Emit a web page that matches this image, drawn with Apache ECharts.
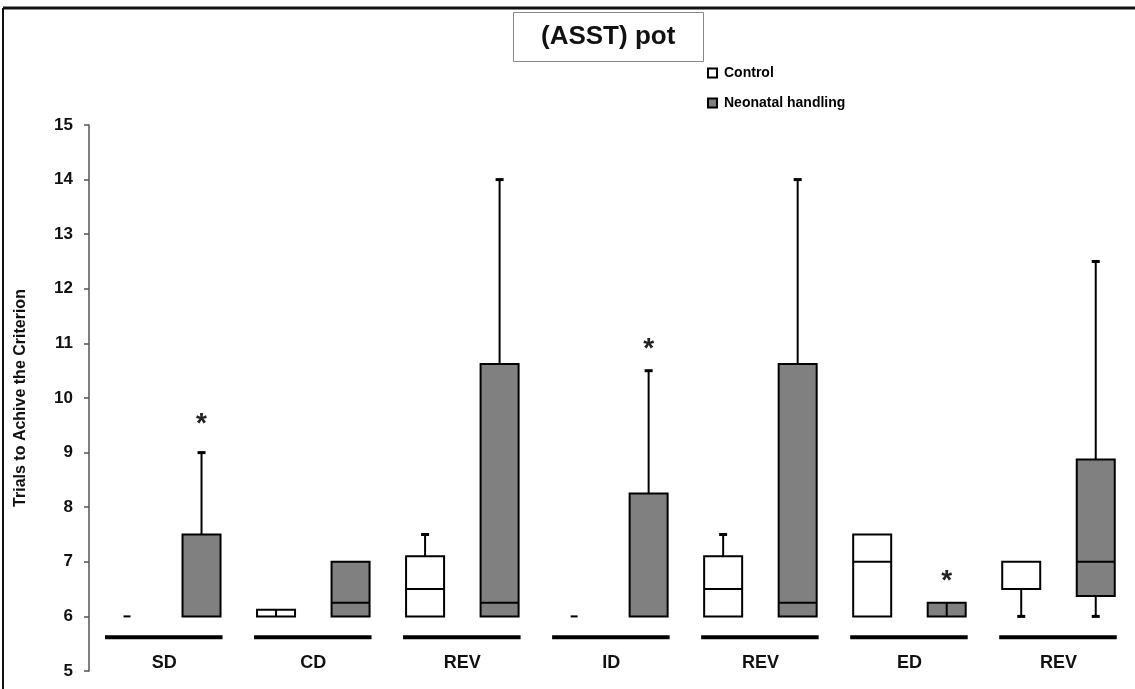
<!DOCTYPE html>
<html>
<head>
<meta charset="utf-8">
<script src="https://cdn.jsdelivr.net/npm/echarts@6/dist/echarts.min.js"></script>
<style>
html,body{margin:0;padding:0;background:#fff;}
#chart{width:1135px;height:689px;}
</style>
</head>
<body>
<div id="chart"></div>
<script>
// ---- data ----
const titleText = '(ASST) pot';
const yAxisName = 'Trials to Achive the Criterion';
const seriesNames = ['Control', 'Neonatal handling'];
const groups = ['SD', 'CD', 'REV', 'ID', 'REV', 'ED', 'REV'];
// [min, q1, median, q3, max] per group
const controlBoxes = [
  [6, 6, 6, 6, 6],
  [6, 6, 6, 6.12, 6.12],
  [6, 6, 6.5, 7.1, 7.5],
  [6, 6, 6, 6, 6],
  [6, 6, 6.5, 7.1, 7.5],
  [6, 6, 7, 7.5, 7.5],
  [6, 6.5, 7, 7, 7]
];
const handlingBoxes = [
  [6, 6, 6, 7.5, 9],
  [6, 6, 6.25, 7, 7],
  [6, 6, 6.25, 10.625, 14],
  [6, 6, 6, 8.25, 10.5],
  [6, 6, 6.25, 10.625, 14],
  [6, 6, 6, 6.25, 6.25],
  [6, 6.375, 7, 8.875, 12.5]
];
// significance stars: [group index, y value]
const starGroups = [0, 3, 5];
const starValues = [9.63, 11.0, 6.76];
const yTicks = { min: 5, max: 15, interval: 1 };

// ---- rendering ----
const controlData = controlBoxes.map((b, g) => [2 * g].concat(b));
const handlingData = handlingBoxes.map((b, g) => [2 * g + 1].concat(b));
const starData = starGroups.map((g, i) => [2 * g + 1, starValues[i]]);
const groupData = groups.map((n, g) => [2 * g, 2 * g + 1]);

function boxRender(fill) {
  return function (params, api) {
    const x = api.value(0);
    const mn = api.value(1), q1 = api.value(2), md = api.value(3), q3 = api.value(4), mx = api.value(5);
    const half = api.size([1, 0])[0] * 0.255;
    const c = api.coord([x, q1]);
    const cx = c[0];
    const yq1 = c[1];
    const yq3 = api.coord([x, q3])[1];
    const ymd = api.coord([x, md])[1];
    const ymx = api.coord([x, mx])[1];
    const ymn = api.coord([x, mn])[1];
    const lineStyle = { stroke: '#000', lineWidth: 2 };
    const children = [];
    if (mn === mx) {
      children.push({ type: 'line', shape: { x1: cx - 3.5, y1: yq1, x2: cx + 3.5, y2: yq1 }, style: { stroke: '#000', lineWidth: 2 } });
      return { type: 'group', children: children };
    }
    if (mx > q3) {
      children.push({ type: 'line', shape: { x1: cx, y1: yq3, x2: cx, y2: ymx }, style: lineStyle });
      children.push({ type: 'line', shape: { x1: cx - 4, y1: ymx, x2: cx + 4, y2: ymx }, style: { stroke: '#000', lineWidth: 3 } });
    }
    if (mn < q1) {
      children.push({ type: 'line', shape: { x1: cx, y1: yq1, x2: cx, y2: ymn }, style: lineStyle });
      children.push({ type: 'line', shape: { x1: cx - 4, y1: ymn, x2: cx + 4, y2: ymn }, style: { stroke: '#000', lineWidth: 3 } });
    }
    children.push({ type: 'rect', shape: { x: cx - half, y: yq3, width: 2 * half, height: yq1 - yq3 }, style: { fill: fill, stroke: '#000', lineWidth: 2 } });
    if (md > q1 && md < q3) {
      children.push({ type: 'line', shape: { x1: cx - half, y1: ymd, x2: cx + half, y2: ymd }, style: lineStyle });
    }
    if (q3 - q1 <= 0.25) {
      children.push({ type: 'line', shape: { x1: cx, y1: yq3, x2: cx, y2: yq1 }, style: lineStyle });
    }
    return { type: 'group', children: children };
  };
}

const font = '"Liberation Sans", Arial, sans-serif';
const chart = echarts.init(document.getElementById('chart'));
chart.setOption({
  animation: false,
  backgroundColor: '#fff',
  title: {
    text: titleText,
    left: 513, top: 12,
    padding: [12, 28, 12, 28],
    borderColor: '#888', borderWidth: 1,
    textStyle: { fontFamily: font, fontWeight: 'bold', fontSize: 26, color: '#111' }
  },
  legend: {
    orient: 'vertical', left: 702, top: 61,
    itemWidth: 9, itemHeight: 9, itemGap: 16,
    textStyle: { fontFamily: font, fontWeight: 'bold', fontSize: 14, color: '#000', padding: [0, 0, 0, 2] },
    data: [
      { name: seriesNames[0], icon: 'rect', itemStyle: { color: '#fff', borderColor: '#000', borderWidth: 2 } },
      { name: seriesNames[1], icon: 'rect', itemStyle: { color: '#808080', borderColor: '#000', borderWidth: 2 } }
    ]
  },
  grid: { left: 89, right: 2, top: 125, bottom: 18, containLabel: false, outerBoundsMode: 'none' },
  xAxis: { type: 'value', min: -0.51, max: 13.5, show: false },
  yAxis: {
    type: 'value', min: yTicks.min, max: yTicks.max, interval: yTicks.interval,
    name: yAxisName, nameLocation: 'middle', nameGap: 60, nameRotate: 90,
    nameTextStyle: { fontFamily: font, fontWeight: 'bold', fontSize: 16, color: '#111' },
    axisLine: { show: true, onZero: false, lineStyle: { color: '#555', width: 1.5 } },
    axisTick: { show: true, length: 5, lineStyle: { color: '#555', width: 1.5 } },
    axisLabel: { margin: 16, fontFamily: font, fontWeight: 'bold', fontSize: 17, color: '#111' },
    splitLine: { show: false }
  },
  graphic: [
    { type: 'line', shape: { x1: 3, y1: 8, x2: 1135, y2: 8 }, style: { stroke: '#111', lineWidth: 3 } },
    { type: 'line', shape: { x1: 3, y1: 8, x2: 3, y2: 689 }, style: { stroke: '#111', lineWidth: 2 } }
  ],
  series: [
    {
      name: seriesNames[0], type: 'custom', renderItem: boxRender('#fff'),
      itemStyle: { color: '#fff' },
      encode: { x: 0, y: [1, 2, 3, 4, 5] }, data: controlData, z: 3
    },
    {
      name: seriesNames[1], type: 'custom', renderItem: boxRender('#808080'),
      itemStyle: { color: '#808080' },
      encode: { x: 0, y: [1, 2, 3, 4, 5] }, data: handlingData, z: 3
    },
    {
      name: 'groups', type: 'custom',
      encode: { x: [0, 1] },
      data: groupData,
      renderItem: function (params, api) {
        const half = api.size([1, 0])[0] * 0.255;
        const a = api.coord([api.value(0), 5.62]);
        const b = api.coord([api.value(1), 5.62]);
        const t = api.coord([(api.value(0) + api.value(1)) / 2, 5.15]);
        return {
          type: 'group',
          children: [
            { type: 'line', shape: { x1: a[0] - half - 3, y1: a[1], x2: b[0] + half + 2, y2: b[1] }, style: { stroke: '#000', lineWidth: 4 } },
            { type: 'text', x: t[0], y: t[1], style: { text: groups[params.dataIndex], align: 'center', verticalAlign: 'middle', font: 'bold 18px ' + font, fill: '#111' } }
          ]
        };
      }
    },
    {
      name: 'stars', type: 'custom',
      encode: { x: 0, y: 1 },
      data: starData,
      renderItem: function (params, api) {
        const p = api.coord([api.value(0), api.value(1)]);
        return { type: 'text', x: p[0], y: p[1] + 6, style: { text: '*', align: 'center', verticalAlign: 'middle', font: 'bold 28px ' + font, fill: '#222' } };
      }
    }
  ]
});
</script>
</body>
</html>
